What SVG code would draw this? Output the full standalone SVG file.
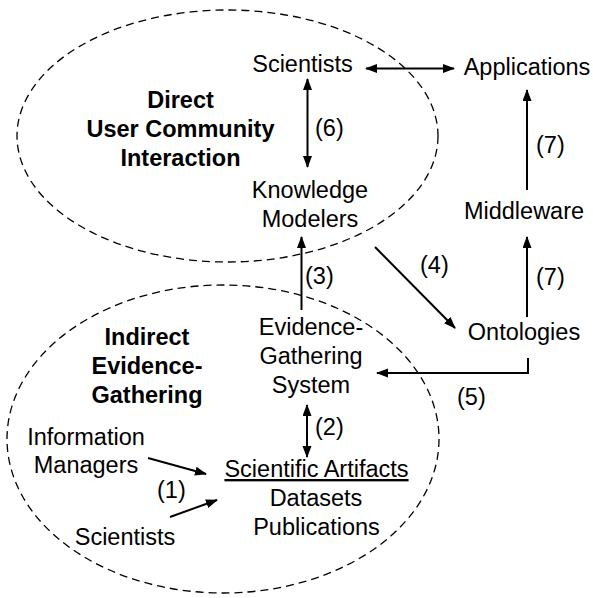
<svg xmlns="http://www.w3.org/2000/svg" width="593" height="598" viewBox="0 0 593 598">
<style>
text{font-family:"Liberation Sans",Arial,sans-serif;font-size:23.5px;fill:#000;text-anchor:middle}
.b{font-weight:bold}
.l{text-anchor:start}
.region{fill:none;stroke:#000;stroke-width:1.3;stroke-dasharray:8 5}
.c{fill:none;stroke:#000;stroke-width:2}
.a{marker-end:url(#ah)}
.d{marker-start:url(#ah);marker-end:url(#ah)}
</style>
<defs>
<marker id="ah" markerUnits="userSpaceOnUse" markerWidth="12" markerHeight="10" refX="11" refY="4.5" orient="auto-start-reverse">
<path d="M0,0 L12,4.5 L0,9 z" fill="#000"/>
</marker>
</defs>
<g id="regions">
<ellipse id="direct-region" class="region" cx="227.5" cy="136" rx="210.5" ry="126"/>
<ellipse id="indirect-region" class="region" cx="223" cy="439" rx="216" ry="154"/>
</g>
<g id="connectors">
<line class="c d" x1="366" y1="68.5" x2="454" y2="68.5"/>
<line class="c d" x1="307.5" y1="79" x2="307.5" y2="167"/>
<line class="c a" x1="301.5" y1="310" x2="301.5" y2="237"/>
<line class="c a" x1="375" y1="247" x2="455" y2="328"/>
<line class="c a" x1="527" y1="190" x2="527" y2="90"/>
<line class="c a" x1="527" y1="317" x2="527" y2="237"/>
<polyline class="c a" points="528,358 528,373 377,373"/>
<line class="c d" x1="307" y1="405" x2="307" y2="457"/>
<line class="c a" x1="148" y1="458" x2="206" y2="474"/>
<line class="c a" x1="170" y1="517" x2="217" y2="500"/>
<text class="l" x="315" y="136">(6)</text>
<text class="l" x="305" y="284">(3)</text>
<text class="l" x="420" y="273">(4)</text>
<text class="l" x="536" y="153">(7)</text>
<text class="l" x="536" y="285">(7)</text>
<text class="l" x="457" y="405">(5)</text>
<text class="l" x="315" y="435">(2)</text>
<text class="l" x="157" y="498">(1)</text>
</g>
<g id="label-direct"><text class="b" x="180.5" y="108">Direct<tspan x="180.5" dy="29">User Community</tspan><tspan x="180.5" dy="29">Interaction</tspan></text></g>
<g id="label-indirect"><text class="b" x="147" y="345">Indirect<tspan x="147" dy="29">Evidence-</tspan><tspan x="147" dy="29">Gathering</tspan></text></g>
<g id="scientists-top"><text x="302.5" y="72">Scientists</text></g>
<g id="applications"><text x="527" y="75">Applications</text></g>
<g id="knowledge-modelers"><text x="310" y="198">Knowledge<tspan x="310" dy="28.5">Modelers</tspan></text></g>
<g id="middleware"><text x="524" y="219">Middleware</text></g>
<g id="ontologies"><text x="524" y="340">Ontologies</text></g>
<g id="evidence-system"><text x="311" y="335">Evidence-<tspan x="311" dy="29">Gathering</tspan><tspan x="311" dy="29">System</tspan></text></g>
<g id="scientific-artifacts"><text x="316.5" y="477" text-decoration="underline">Scientific Artifacts</text><text x="316" y="506">Datasets</text><text x="316.5" y="535">Publications</text></g>
<g id="information-managers"><text x="86" y="445">Information<tspan x="86" dy="28">Managers</tspan></text></g>
<g id="scientists-bottom"><text x="125" y="545">Scientists</text></g>
</svg>
